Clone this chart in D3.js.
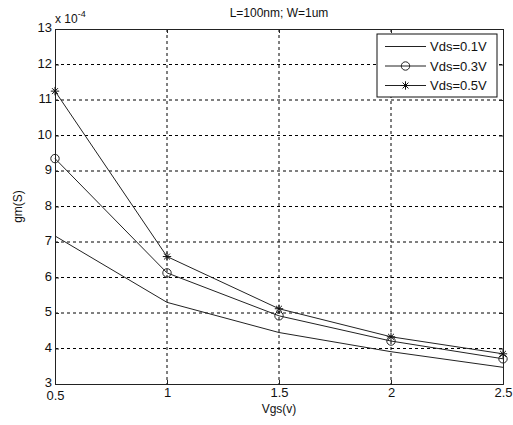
<!DOCTYPE html>
<html>
<head>
<meta charset="utf-8">
<script src="https://cdn.jsdelivr.net/npm/d3@7"></script>
<style>
  body { margin: 0; background: #fff; }
  text { font-family: "Liberation Sans", Arial, sans-serif; fill: #111; }
</style>
</head>
<body>
<div id="chart"></div>
<script>
const vgs = [0.5, 1, 1.5, 2, 2.5]
const vds01 = [7.17, 5.30, 4.45, 3.91, 3.47]
const vds03 = [9.35, 6.13, 4.92, 4.21, 3.71]
const vds05 = [11.25, 6.59, 5.12, 4.33, 3.85]
const xTicks = [0.5, 1, 1.5, 2, 2.5]
const yTicks = [3, 4, 5, 6, 7, 8, 9, 10, 11, 12, 13]
const seriesNames = ['Vds=0.1V', 'Vds=0.3V', 'Vds=0.5V']

const w = 513, h = 425
const margin = {left: 55, top: 29, right: 10, bottom: 41}
const width = w - margin.left - margin.right
const height = h - margin.top - margin.bottom

const x = d3.scaleLinear().domain([0.5, 2.5]).range([0, width])
const y = d3.scaleLinear().domain([3, 13]).range([height, 0])

const svg = d3.select('#chart').append('svg')
  .attr('width', w)
  .attr('height', h)

const chart = svg.append('g')
  .attr('transform', 'translate(' + margin.left + ',' + margin.top + ')')

// grid
chart.append('g').selectAll('line')
  .data(xTicks.slice(1, -1))
  .enter().append('line')
  .attr('x1', d => x(d)).attr('x2', d => x(d))
  .attr('y1', 0).attr('y2', height)
  .attr('stroke', '#000').attr('stroke-dasharray', '3,3')

chart.append('g').selectAll('line')
  .data(yTicks.slice(1, -1))
  .enter().append('line')
  .attr('y1', d => y(d)).attr('y2', d => y(d))
  .attr('x1', 0).attr('x2', width)
  .attr('stroke', '#000').attr('stroke-dasharray', '3,3')

// axes
const xAxis = chart.append('g')
  .attr('transform', 'translate(0,' + height + ')')
  .call(d3.axisBottom(x).tickValues(xTicks).tickSize(-4).tickPadding(4).tickFormat(d3.format('')))
const yAxis = chart.append('g')
  .call(d3.axisLeft(y).tickValues(yTicks).tickSize(-4).tickPadding(3).tickFormat(d3.format('')))
chart.append('g')
  .call(d3.axisTop(x).tickValues(xTicks).tickSize(-4).tickFormat(''))
chart.append('g')
  .attr('transform', 'translate(' + width + ',0)')
  .call(d3.axisRight(y).tickValues(yTicks).tickSize(-4).tickFormat(''))

chart.selectAll('.domain').attr('stroke', '#222')
chart.selectAll('.tick line').attr('stroke', '#222')
xAxis.selectAll('text').attr('font-size', 13).attr('font-family', '"Liberation Sans", Arial, sans-serif').attr('fill', '#111')
yAxis.selectAll('text').attr('font-size', 13).attr('font-family', '"Liberation Sans", Arial, sans-serif').attr('fill', '#111')
  .attr('dy', '0.2em')
xAxis.select('.tick:first-of-type text').attr('dy', '0.95em')

// lines
const line = d3.line()
  .x((d, i) => x(vgs[i]))
  .y(d => y(d))

const allSeries = [vds01, vds03, vds05]
allSeries.forEach((s, k) => {
  chart.append('path')
    .datum(s)
    .attr('d', line)
    .attr('fill', 'none')
    .attr('stroke', '#222')
    .attr('stroke-width', 1)
})

function drawMarker(g, kind, cx, cy) {
  if (kind === 1) {
    g.append('circle').attr('cx', cx).attr('cy', cy).attr('r', 4.2)
      .attr('fill', 'none').attr('stroke', '#222')
  } else if (kind === 2) {
    const r = 4.2
    g.append('path')
      .attr('d', `M${cx - r},${cy}L${cx + r},${cy}M${cx},${cy - r}L${cx},${cy + r}` +
        `M${cx - r * 0.7},${cy - r * 0.7}L${cx + r * 0.7},${cy + r * 0.7}` +
        `M${cx - r * 0.7},${cy + r * 0.7}L${cx + r * 0.7},${cy - r * 0.7}`)
      .attr('stroke', '#111').attr('stroke-width', 1)
  }
}

const marks = chart.append('g')
allSeries.forEach((s, k) => {
  s.forEach((d, i) => drawMarker(marks, k, x(vgs[i]), y(d)))
})

// legend
const legend = svg.append('g').attr('transform', 'translate(377,34)')
legend.append('rect')
  .attr('width', 120).attr('height', 63)
  .attr('fill', '#fff').attr('stroke', '#111')
seriesNames.forEach((name, k) => {
  const ly = 12.5 + k * 19.5
  legend.append('line')
    .attr('x1', 8).attr('x2', 49).attr('y1', ly).attr('y2', ly)
    .attr('stroke', '#222')
  drawMarker(legend, k, 28.5, ly)
  legend.append('text')
    .attr('x', 53).attr('y', ly + 4.5)
    .attr('font-size', 13)
    .text(name)
})

// labels
svg.append('text')
  .attr('x', margin.left + width / 2).attr('y', 17)
  .attr('text-anchor', 'middle')
  .attr('font-size', 12)
  .text('L=100nm; W=1um')

const exp = svg.append('text')
  .attr('x', 55).attr('y', 23)
  .attr('font-size', 12)
exp.append('tspan').text('x 10')
exp.append('tspan').attr('dy', -6).attr('font-size', 9).text('-4')

svg.append('text')
  .attr('x', margin.left + width / 2).attr('y', 413)
  .attr('text-anchor', 'middle')
  .attr('font-size', 12)
  .text('Vgs(v)')

svg.append('text')
  .attr('transform', 'translate(22,' + (margin.top + height / 2) + ') rotate(-90)')
  .attr('text-anchor', 'middle')
  .attr('font-size', 12)
  .text('gm(S)')
</script>
</body>
</html>
